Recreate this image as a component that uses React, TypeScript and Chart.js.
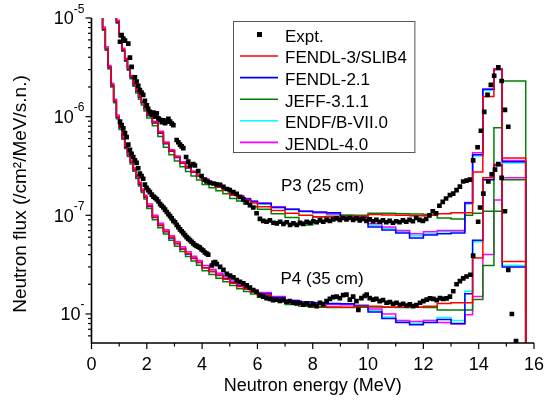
import { useEffect, useRef } from 'react';
import { Chart, registerables } from 'chart.js';

Chart.register(...registerables);

// ---------------- data ----------------
// histogram bin edges (MeV), shared by all library calculations
const BIN_EDGES = [
  0.3, 0.4, 0.5, 0.6, 0.7, 0.8, 0.9, 1.0, 1.1, 1.2, 1.3, 1.4, 1.5, 1.6, 1.7, 1.8, 1.9, 2.0,
  2.2, 2.4, 2.6, 2.8, 3.0, 3.2, 3.4, 3.6, 3.8, 4.0,
  4.25, 4.5, 4.75, 5.0, 5.25, 5.5, 5.75, 6.0,
  6.5, 7.0, 7.5, 8.0, 8.5, 9.0, 9.5, 10.0, 10.5, 11.0, 11.5, 12.0, 12.5, 13.0, 13.5,
  13.78, 14.15, 14.55, 14.85, 15.7,
];
const FLOOR_VALUE = 1e-10;

// P3 (25 cm)
const P3_FENDL3 = [
  6e-5, 4.6e-5, 3.6e-5, 2.7e-5, 2.0e-5, 1.4e-5, 9.2e-6, 6.6e-6, 4.8e-6, 3.8e-6, 3.1e-6, 2.55e-6, 2.15e-6, 1.85e-6, 1.6e-6, 1.4e-6, 1.22e-6,
  1.05e-6, 8.8e-7, 6.9e-7, 5.4e-7, 4.5e-7, 3.9e-7, 3.4e-7, 3.05e-7, 2.75e-7, 2.5e-7,
  2.25e-7, 2.08e-7, 1.93e-7, 1.8e-7, 1.6e-7, 1.52e-7, 1.42e-7, 1.33e-7,
  1.22e-7, 1.12e-7, 1.05e-7, 1.0e-7, 9.7e-8, 9.6e-8, 9.6e-8, 9.8e-8, 1.02e-7, 1.01e-7, 1.0e-7, 9.9e-8, 1.0e-7, 1.04e-7, 1.06e-7,
  1.06e-7, 2.75e-7, 1.6e-6, 3.05e-6, 3.8e-7,
];
const P3_FENDL21 = [
  6e-5, 4.6e-5, 3.55e-5, 2.65e-5, 1.97e-5, 1.38e-5, 9.0e-6, 6.5e-6, 4.7e-6, 3.72e-6, 3.05e-6, 2.5e-6, 2.1e-6, 1.82e-6, 1.57e-6, 1.38e-6, 1.2e-6,
  1.03e-6, 8.6e-7, 6.8e-7, 5.3e-7, 4.45e-7, 3.85e-7, 3.38e-7, 3.02e-7, 2.73e-7, 2.5e-7,
  2.27e-7, 2.1e-7, 1.96e-7, 1.83e-7, 1.65e-7, 1.55e-7, 1.46e-7, 1.38e-7,
  1.32e-7, 1.2e-7, 1.15e-7, 1.1e-7, 1.08e-7, 1.06e-7, 9.6e-8, 9.5e-8, 7.6e-8, 7.1e-8, 6.6e-8, 5.9e-8, 6.3e-8, 6.5e-8, 6.6e-8,
  1.33e-7, 4.1e-7, 1.9e-6, 3.0e-6, 3.5e-7,
];
const P3_JEFF = [
  5.9e-5, 4.5e-5, 3.5e-5, 2.6e-5, 1.93e-5, 1.35e-5, 8.9e-6, 6.4e-6, 4.6e-6, 3.65e-6, 2.95e-6, 2.42e-6, 2.03e-6, 1.74e-6, 1.5e-6, 1.31e-6, 1.14e-6,
  9.7e-7, 8.1e-7, 6.3e-7, 4.9e-7, 4.1e-7, 3.55e-7, 3.1e-7, 2.78e-7, 2.5e-7, 2.28e-7,
  2.05e-7, 1.9e-7, 1.77e-7, 1.65e-7, 1.48e-7, 1.4e-7, 1.3e-7, 1.22e-7,
  1.15e-7, 1.04e-7, 9.5e-8, 8.0e-8, 9.6e-8, 9.8e-8, 1.0e-7, 1.0e-7, 1.05e-7, 1.05e-7, 1.04e-7, 1.03e-7, 1.02e-7, 9.4e-8, 9.2e-8,
  1.0e-7, 1.05e-7, 1.1e-7, 7.7e-7, 2.3e-6,
];
const P3_ENDF = [
  6e-5, 4.6e-5, 3.58e-5, 2.68e-5, 1.99e-5, 1.39e-5, 9.1e-6, 6.55e-6, 4.75e-6, 3.76e-6, 3.08e-6, 2.53e-6, 2.13e-6, 1.84e-6, 1.59e-6, 1.39e-6, 1.21e-6,
  1.04e-6, 8.7e-7, 6.85e-7, 5.35e-7, 4.48e-7, 3.88e-7, 3.4e-7, 3.04e-7, 2.75e-7, 2.5e-7,
  2.27e-7, 2.1e-7, 1.95e-7, 1.82e-7, 1.64e-7, 1.54e-7, 1.45e-7, 1.37e-7,
  1.3e-7, 1.2e-7, 1.14e-7, 1.09e-7, 1.06e-7, 1.04e-7, 9.8e-8, 9.6e-8, 7.9e-8, 7.4e-8, 6.8e-8, 6.2e-8, 6.5e-8, 6.8e-8, 6.9e-8,
  1.3e-7, 4.0e-7, 1.85e-6, 3.0e-6, 3.4e-7,
];
const P3_JENDL = [
  6.2e-5, 4.7e-5, 3.7e-5, 2.8e-5, 2.06e-5, 1.45e-5, 9.5e-6, 6.8e-6, 4.95e-6, 3.9e-6, 3.2e-6, 2.62e-6, 2.2e-6, 1.9e-6, 1.64e-6, 1.43e-6, 1.25e-6,
  1.07e-6, 9.0e-7, 7.1e-7, 5.55e-7, 4.62e-7, 4.0e-7, 3.5e-7, 3.13e-7, 2.82e-7, 2.56e-7,
  2.33e-7, 2.16e-7, 2.0e-7, 1.87e-7, 1.68e-7, 1.58e-7, 1.48e-7, 1.4e-7,
  1.33e-7, 1.22e-7, 1.15e-7, 1.1e-7, 1.06e-7, 1.03e-7, 1.0e-7, 9.8e-8, 8.2e-8, 7.6e-8, 7.0e-8, 6.5e-8, 6.8e-8, 7.0e-8, 7.0e-8,
  1.35e-7, 4.3e-7, 1.9e-6, 3.0e-6, 3.6e-7,
];

// P4 (35 cm)
const P4_FENDL3 = [
  1.5e-5, 7.8e-6, 4.9e-6, 3.2e-6, 2.1e-6, 1.45e-6, 1.0e-6, 7.8e-7, 6.2e-7, 5.0e-7, 4.15e-7, 3.5e-7, 2.95e-7, 2.5e-7, 2.1e-7, 1.8e-7, 1.55e-7,
  1.25e-7, 9.6e-8, 8.0e-8, 6.9e-8, 6.0e-8, 5.2e-8, 4.6e-8, 4.1e-8, 3.7e-8, 3.35e-8,
  2.95e-8, 2.7e-8, 2.45e-8, 2.25e-8, 2.05e-8, 1.9e-8, 1.78e-8, 1.67e-8,
  1.55e-8, 1.42e-8, 1.3e-8, 1.25e-8, 1.2e-8, 1.18e-8, 1.17e-8, 1.2e-8, 1.2e-8, 1.18e-8, 1.17e-8, 1.17e-8, 1.2e-8, 1.28e-8, 1.3e-8,
  1.3e-8, 3.7e-8, 2.4e-7, 3.3e-7, 3.4e-8,
];
const P4_FENDL21 = [
  1.5e-5, 7.7e-6, 4.85e-6, 3.15e-6, 2.07e-6, 1.43e-6, 9.8e-7, 7.7e-7, 6.1e-7, 4.9e-7, 4.1e-7, 3.45e-7, 2.9e-7, 2.46e-7, 2.07e-7, 1.77e-7, 1.53e-7,
  1.23e-7, 9.5e-8, 7.9e-8, 6.8e-8, 5.9e-8, 5.15e-8, 4.55e-8, 4.05e-8, 3.65e-8, 3.32e-8,
  2.95e-8, 2.7e-8, 2.47e-8, 2.27e-8, 2.08e-8, 1.93e-8, 1.81e-8, 1.7e-8,
  1.6e-8, 1.47e-8, 1.36e-8, 1.32e-8, 1.3e-8, 1.28e-8, 1.27e-8, 1.22e-8, 1.05e-8, 9.0e-9, 8.2e-9, 7.8e-9, 8.2e-9, 8.8e-9, 8.0e-9,
  1.6e-8, 5.6e-8, 2.3e-7, 3.2e-7, 3.0e-8,
];
const P4_JEFF = [
  1.45e-5, 7.5e-6, 4.7e-6, 3.05e-6, 2.0e-6, 1.38e-6, 9.5e-7, 7.4e-7, 5.9e-7, 4.75e-7, 3.95e-7, 3.32e-7, 2.8e-7, 2.36e-7, 1.98e-7, 1.7e-7, 1.46e-7,
  1.17e-7, 9.0e-8, 7.5e-8, 6.45e-8, 5.6e-8, 4.85e-8, 4.3e-8, 3.83e-8, 3.45e-8, 3.12e-8,
  2.75e-8, 2.52e-8, 2.3e-8, 2.12e-8, 1.94e-8, 1.8e-8, 1.69e-8, 1.59e-8,
  1.48e-8, 1.35e-8, 1.25e-8, 1.2e-8, 1.17e-8, 1.16e-8, 1.16e-8, 1.17e-8, 1.18e-8, 1.17e-8, 1.16e-8, 1.17e-8, 1.16e-8, 1.1e-8, 1.1e-8,
  1.1e-8, 1.4e-8, 3.1e-8, 1.1e-7, 2.3e-7,
];
const P4_ENDF = [
  1.5e-5, 7.8e-6, 4.9e-6, 3.18e-6, 2.09e-6, 1.44e-6, 9.9e-7, 7.75e-7, 6.15e-7, 4.95e-7, 4.12e-7, 3.47e-7, 2.92e-7, 2.48e-7, 2.08e-7, 1.78e-7, 1.54e-7,
  1.24e-7, 9.55e-8, 7.95e-8, 6.85e-8, 5.95e-8, 5.18e-8, 4.58e-8, 4.08e-8, 3.67e-8, 3.33e-8,
  2.96e-8, 2.71e-8, 2.47e-8, 2.27e-8, 2.07e-8, 1.92e-8, 1.8e-8, 1.69e-8,
  1.58e-8, 1.45e-8, 1.34e-8, 1.3e-8, 1.27e-8, 1.25e-8, 1.24e-8, 1.22e-8, 1.08e-8, 9.3e-9, 8.5e-9, 8.0e-9, 8.6e-9, 9.2e-9, 8.6e-9,
  1.7e-8, 5.4e-8, 2.3e-7, 3.2e-7, 3.1e-8,
];
const P4_JENDL = [
  1.6e-5, 8.1e-6, 5.1e-6, 3.3e-6, 2.18e-6, 1.5e-6, 1.04e-6, 8.1e-7, 6.4e-7, 5.15e-7, 4.3e-7, 3.62e-7, 3.05e-7, 2.58e-7, 2.17e-7, 1.86e-7, 1.6e-7,
  1.3e-7, 1.0e-7, 8.3e-8, 7.15e-8, 6.2e-8, 5.4e-8, 4.8e-8, 4.27e-8, 3.85e-8, 3.48e-8,
  3.1e-8, 2.84e-8, 2.58e-8, 2.37e-8, 2.16e-8, 2.0e-8, 1.87e-8, 1.75e-8,
  1.65e-8, 1.5e-8, 1.38e-8, 1.32e-8, 1.28e-8, 1.25e-8, 1.24e-8, 1.22e-8, 1.12e-8, 1.0e-8, 8.6e-9, 8.4e-9, 8.6e-9, 8.2e-9, 7.9e-9,
  9.8e-9, 1.5e-8, 4.0e-8, 1.43e-7, 2.4e-7,
];

// Experiment
const P3_EXPT_E = [
  1.03, 1.09, 1.15, 1.21, 1.33, 1.39, 1.45, 1.57, 1.63, 1.69, 1.75, 1.81, 1.87, 1.93, 2.0, 2.05, 2.11, 2.18, 2.24, 2.3,
  2.36, 2.42, 2.48, 2.54, 2.6, 2.66, 2.72, 2.78, 2.84, 2.9, 2.96, 3.08, 3.14, 3.2, 3.26, 3.32, 3.42, 3.5, 3.56, 3.68,
  3.74, 3.86, 3.98, 4.1, 4.16, 4.28, 4.4, 4.52, 4.65, 4.77, 4.9, 5.0, 5.13, 5.25, 5.37, 5.49, 5.61, 5.73, 5.85, 5.97,
  6.09, 6.21, 6.33, 6.45, 6.58, 6.7, 6.82, 6.94, 7.06, 7.18, 7.3, 7.42, 7.54, 7.66, 7.78, 7.9, 8.02, 8.14, 8.26, 8.38,
  8.5, 8.62, 8.74, 8.86, 8.98, 9.1, 9.22, 9.34, 9.46, 9.58, 9.7, 9.82, 9.94, 10.06, 10.18, 10.3, 10.42, 10.54, 10.66, 10.78,
  10.9, 11.02, 11.14, 11.26, 11.38, 11.5, 11.62, 11.74, 11.86, 11.98, 12.1, 12.22, 12.34, 12.46, 12.58, 12.7, 12.82, 12.96, 13.08, 13.2,
  13.32, 13.44, 13.56, 13.68, 13.8, 13.96, 14.08, 14.2, 14.32, 14.44, 14.56, 14.71, 14.83, 14.95, 15.07,
];
const P3_EXPT_FLUX = [
  5.75e-6, 6.7e-6, 6.2e-6, 5.9e-6, 5.5e-6, 3.96e-6, 3.2e-6, 2.5e-6, 2.27e-6, 2.05e-6, 1.86e-6, 1.75e-6, 1.66e-6, 1.45e-6, 1.3e-6, 1.2e-6, 1.12e-6, 1.05e-6, 1.1e-6, 1.0e-6,
  1.08e-6, 9.6e-7, 9.3e-7, 8.8e-7, 9.2e-7, 8.6e-7, 8.9e-7, 9.5e-7, 8.9e-7, 8.5e-7, 8.2e-7, 5.8e-7, 5.5e-7, 5.2e-7, 5.0e-7, 4.8e-7, 3.9e-7, 3.5e-7, 3.2e-7, 3.3e-7,
  3.2e-7, 2.8e-7, 2.5e-7, 2.3e-7, 2.2e-7, 2.15e-7, 2.1e-7, 2.06e-7, 2.04e-7, 1.94e-7, 1.85e-7, 1.8e-7, 1.72e-7, 1.65e-7, 1.54e-7, 1.45e-7, 1.35e-7, 1.27e-7, 1.2e-7, 1.05e-7,
  9.2e-8, 8.8e-8, 8.6e-8, 8.9e-8, 8.4e-8, 8.3e-8, 8.6e-8, 8.2e-8, 8.5e-8, 8.0e-8, 8.3e-8, 8.0e-8, 8.4e-8, 8.2e-8, 8.6e-8, 8.4e-8, 8.7e-8, 8.5e-8, 8.9e-8, 8.6e-8,
  9.0e-8, 8.8e-8, 9.1e-8, 9.3e-8, 9.0e-8, 9.4e-8, 9.1e-8, 9.4e-8, 9.0e-8, 9.3e-8, 8.9e-8, 9.2e-8, 8.8e-8, 9.1e-8, 8.7e-8, 9.0e-8, 8.6e-8, 8.9e-8, 8.5e-8, 8.8e-8,
  8.4e-8, 8.7e-8, 8.5e-8, 8.9e-8, 8.6e-8, 9.0e-8, 8.7e-8, 9.4e-8, 9.0e-8, 8.8e-8, 9.2e-8, 1.0e-7, 1.1e-7, 1.05e-7, 1.25e-7, 1.37e-7, 1.48e-7, 1.6e-7, 1.66e-7, 1.8e-7,
  1.95e-7, 2.2e-7, 2.25e-7, 2.3e-7, 3.6e-7, 4.9e-7, 7.2e-7, 1.12e-6, 1.66e-6, 2.1e-6, 2.6e-6, 3.16e-6, 2.3e-6, 1.17e-6, 7.9e-7,
];
const P4_EXPT_E = [
  1.03, 1.09, 1.15, 1.21, 1.27, 1.33, 1.39, 1.45, 1.51, 1.57, 1.63, 1.69, 1.75, 1.81, 1.87, 1.93, 1.99, 2.05, 2.11, 2.18,
  2.24, 2.3, 2.36, 2.42, 2.48, 2.54, 2.6, 2.66, 2.72, 2.78, 2.84, 2.9, 2.96, 3.02, 3.08, 3.14, 3.2, 3.26, 3.32, 3.38,
  3.44, 3.5, 3.56, 3.62, 3.68, 3.74, 3.8, 3.86, 3.92, 3.98, 4.04, 4.1, 4.16, 4.22, 4.35, 4.41, 4.47, 4.53, 4.65, 4.77,
  4.89, 5.01, 5.13, 5.25, 5.37, 5.49, 5.61, 5.73, 5.85, 5.97, 6.09, 6.21, 6.33, 6.45, 6.57, 6.69, 6.81, 6.93, 7.05, 7.17,
  7.29, 7.41, 7.53, 7.66, 7.78, 7.9, 8.02, 8.14, 8.26, 8.38, 8.5, 8.62, 8.74, 8.86, 8.98, 9.1, 9.22, 9.34, 9.46, 9.58,
  9.65, 9.76, 9.88, 9.95, 10.06, 10.18, 10.3, 10.42, 10.54, 10.67, 10.79, 10.91, 11.03, 11.15, 11.27, 11.39, 11.51, 11.63, 11.75, 11.88,
  12.0, 12.12, 12.24, 12.36, 12.48, 12.6, 12.72, 12.84, 12.96, 13.08, 13.2, 13.32, 13.44, 13.56, 13.7, 13.8, 13.98, 14.05, 14.17, 14.35,
  14.47, 14.59, 14.71, 14.83, 14.95, 15.07, 15.2, 15.35,
];
const P4_EXPT_FLUX = [
  8.9e-7, 8.2e-7, 7.6e-7, 6.8e-7, 6.2e-7, 5.2e-7, 4.6e-7, 4.2e-7, 3.9e-7, 3.6e-7, 3.4e-7, 3.0e-7, 2.65e-7, 2.5e-7, 2.35e-7, 2.05e-7, 1.9e-7, 1.8e-7, 1.72e-7, 1.62e-7,
  1.55e-7, 1.5e-7, 1.45e-7, 1.38e-7, 1.3e-7, 1.25e-7, 1.2e-7, 1.14e-7, 1.08e-7, 1.03e-7, 9.8e-8, 9.3e-8, 8.8e-8, 8.5e-8, 8.0e-8, 7.6e-8, 7.2e-8, 6.9e-8, 6.6e-8, 6.3e-8,
  6.0e-8, 5.8e-8, 5.6e-8, 5.4e-8, 5.2e-8, 5.0e-8, 4.9e-8, 4.8e-8, 4.7e-8, 4.5e-8, 4.4e-8, 4.2e-8, 4.1e-8, 4.0e-8, 3.1e-8, 3.3e-8, 3.35e-8, 3.2e-8, 3.0e-8, 2.8e-8,
  2.55e-8, 2.45e-8, 2.35e-8, 2.2e-8, 2.12e-8, 2.05e-8, 1.95e-8, 1.85e-8, 1.75e-8, 1.68e-8, 1.55e-8, 1.5e-8, 1.45e-8, 1.42e-8, 1.38e-8, 1.4e-8, 1.36e-8, 1.38e-8, 1.33e-8, 1.35e-8,
  1.3e-8, 1.28e-8, 1.3e-8, 1.24e-8, 1.28e-8, 1.22e-8, 1.26e-8, 1.2e-8, 1.3e-8, 1.26e-8, 1.35e-8, 1.42e-8, 1.48e-8, 1.5e-8, 1.45e-8, 1.55e-8, 1.57e-8, 1.4e-8, 1.5e-8, 1.35e-8,
  1.1e-8, 1.45e-8, 1.52e-8, 1.57e-8, 1.45e-8, 1.4e-8, 1.42e-8, 1.35e-8, 1.38e-8, 1.3e-8, 1.32e-8, 1.27e-8, 1.3e-8, 1.24e-8, 1.27e-8, 1.22e-8, 1.25e-8, 1.2e-8, 1.23e-8, 1.3e-8,
  1.35e-8, 1.4e-8, 1.44e-8, 1.42e-8, 1.38e-8, 1.45e-8, 1.42e-8, 1.44e-8, 1.5e-8, 1.7e-8, 2.0e-8, 2.15e-8, 2.3e-8, 2.4e-8, 2.5e-8, 3.9e-8, 8.6e-8, 1.2e-7, 1.66e-7, 2.2e-7,
  2.6e-7, 2.9e-7, 3.3e-7, 2.4e-7, 1.1e-7, 2.8e-8, 1.0e-8, 5.3e-9,
];

const X_MIN = 0;
const X_MAX = 16;
const Y_MIN = 5.08e-9;
const Y_MAX = 1e-5;
const X_TICK_LABELS = ['0', '2', '4', '6', '8', '10', '12', '14', '16'];
const Y_TICK_VALUES = [1e-5, 1e-6, 1e-7, 1e-8];
const Y_TICK_EXPONENTS = ['-5', '-6', '-7', '-'];

const LIBRARIES = [
  { name: 'FENDL-3/SLIB4', color: '#ff0000', p3: P3_FENDL3, p4: P4_FENDL3, order: 1 },
  { name: 'FENDL-2.1', color: '#0000ff', p3: P3_FENDL21, p4: P4_FENDL21, order: 2 },
  { name: 'JEFF-3.1.1', color: '#008000', p3: P3_JEFF, p4: P4_JEFF, order: 3 },
  { name: 'ENDF/B-VII.0', color: '#00ffff', p3: P3_ENDF, p4: P4_ENDF, order: 5 },
  { name: 'JENDL-4.0', color: '#ff00ff', p3: P3_JENDL, p4: P4_JENDL, order: 4 },
];

const FONT = '"Liberation Sans", Arial, Helvetica, sans-serif';

function stepPoints(values: number[]) {
  const pts = values.map((v, i) => ({ x: BIN_EDGES[i], y: v }));
  pts.push({ x: BIN_EDGES[BIN_EDGES.length - 1], y: FLOOR_VALUE });
  return pts;
}

function scatterPoints(es: number[], fs: number[]) {
  return es.map((e, i) => ({ x: e, y: fs[i] }));
}

const decorPlugin = {
  id: 'decor',
  afterDraw(chart: any) {
    const { ctx, chartArea: a } = chart;
    const xs = chart.scales.x;
    const ys = chart.scales.y;
    ctx.save();
    ctx.strokeStyle = '#000';
    ctx.fillStyle = '#000';

    // axis lines
    ctx.lineWidth = 1.6;
    ctx.beginPath();
    ctx.moveTo(a.left, a.top);
    ctx.lineTo(a.left, a.bottom);
    ctx.lineTo(a.right, a.bottom);
    ctx.stroke();

    // x ticks (major every 2, minor every 1)
    ctx.lineWidth = 1.2;
    for (let v = X_MIN; v <= X_MAX; v++) {
      const px = xs.getPixelForValue(v);
      const len = v % 2 === 0 ? 6 : 3.5;
      ctx.beginPath();
      ctx.moveTo(px, a.bottom);
      ctx.lineTo(px, a.bottom + len);
      ctx.stroke();
    }
    ctx.font = `18px ${FONT}`;
    ctx.textAlign = 'center';
    ctx.textBaseline = 'alphabetic';
    X_TICK_LABELS.forEach((t) => {
      const px = xs.getPixelForValue(Number(t));
      ctx.fillText(t, px, a.bottom + 27);
    });

    // y ticks (log decades + minor)
    for (let k = -9; k <= -5; k++) {
      for (let m = 1; m <= 9; m++) {
        const v = m * Math.pow(10, k);
        if (v < Y_MIN * 0.999 || v > Y_MAX * 1.001) continue;
        const py = ys.getPixelForValue(v);
        const len = m === 1 ? 6 : 3.5;
        ctx.beginPath();
        ctx.moveTo(a.left - len, py);
        ctx.lineTo(a.left, py);
        ctx.stroke();
      }
    }
    // y labels with superscript exponent
    Y_TICK_VALUES.forEach((v, i) => {
      const py = ys.getPixelForValue(v);
      const right = a.left - 7;
      ctx.textAlign = 'right';
      ctx.textBaseline = 'alphabetic';
      ctx.font = `12px ${FONT}`;
      const sup = Y_TICK_EXPONENTS[i];
      const supW = ctx.measureText(sup).width;
      ctx.fillText(sup, right, py - 5.5);
      ctx.font = `18px ${FONT}`;
      ctx.fillText('10', right - supW, py + 6.4);
    });

    // axis titles
    ctx.font = `18px ${FONT}`;
    ctx.textAlign = 'center';
    ctx.textBaseline = 'alphabetic';
    ctx.fillText('Neutron energy (MeV)', (a.left + a.right) / 2, 391);
    ctx.save();
    ctx.font = `19px ${FONT}`;
    ctx.translate(21, 194);
    ctx.rotate(-Math.PI / 2);
    ctx.textBaseline = 'middle';
    ctx.fillText('Neutron flux (/cm\u00B2/MeV/s.n.)', 0, 0);
    ctx.restore();

    // annotations
    ctx.font = `17px ${FONT}`;
    ctx.textAlign = 'left';
    ctx.textBaseline = 'alphabetic';
    ctx.fillText('P3 (25 cm)', 281, 190.5);
    ctx.fillText('P4 (35 cm)', 280.5, 284);

    // legend
    ctx.font = `17px ${FONT}`;
    const names = ['Expt.', ...LIBRARIES.map((l) => l.name)];
    const maxW = Math.max(...names.map((n) => ctx.measureText(n).width));
    const bx = 233.5;
    const by = 21.5;
    const bw = 285 - bx + maxW + 8;
    const bh = 131;
    ctx.fillStyle = '#fff';
    ctx.fillRect(bx, by, bw, bh);
    ctx.strokeStyle = '#555';
    ctx.lineWidth = 1;
    ctx.strokeRect(bx, by, bw, bh);
    ctx.fillStyle = '#000';
    ctx.fillRect(259.5 - 2.5, 34.5 - 2.5, 5, 5);
    ctx.fillText('Expt.', 285, 34.5 + 7.3);
    LIBRARIES.forEach((l, i) => {
      const yy = 56 + i * 21.6;
      ctx.strokeStyle = l.color;
      ctx.lineWidth = 1.6;
      ctx.beginPath();
      ctx.moveTo(240, yy);
      ctx.lineTo(278, yy);
      ctx.stroke();
      ctx.fillStyle = '#000';
      ctx.fillText(l.name, 285, yy + 7.3);
    });
    ctx.restore();
  },
};

export default function App() {
  const canvasRef = useRef<HTMLCanvasElement | null>(null);

  useEffect(() => {
    if (!canvasRef.current) return;
    const datasets: any[] = [
      {
        label: 'Expt. P3',
        type: 'scatter',
        data: scatterPoints(P3_EXPT_E, P3_EXPT_FLUX),
        pointStyle: 'rect',
        pointRadius: 3.3,
        backgroundColor: '#000',
        borderWidth: 0,
        showLine: false,
        order: 0,
      },
      {
        label: 'Expt. P4',
        type: 'scatter',
        data: scatterPoints(P4_EXPT_E, P4_EXPT_FLUX),
        pointStyle: 'rect',
        pointRadius: 3.3,
        backgroundColor: '#000',
        borderWidth: 0,
        showLine: false,
        order: 0,
      },
    ];
    LIBRARIES.forEach((l) => {
      [l.p3, l.p4].forEach((vals, j) => {
        datasets.push({
          label: `${l.name} ${j === 0 ? 'P3' : 'P4'}`,
          type: 'line',
          data: stepPoints(vals),
          stepped: 'before',
          borderColor: l.color,
          borderWidth: 1.5,
          pointRadius: 0,
          fill: false,
          tension: 0,
          order: l.order,
        });
      });
    });

    const chart = new Chart(canvasRef.current, {
      type: 'line',
      data: { datasets },
      options: {
        animation: false,
        responsive: false,
        maintainAspectRatio: false,
        events: [],
        layout: { padding: { left: 91.5, top: 18, right: 10, bottom: 65 } },
        scales: {
          x: { type: 'linear', min: X_MIN, max: X_MAX, display: false },
          y: { type: 'logarithmic', min: Y_MIN, max: Y_MAX, display: false },
        },
        plugins: {
          legend: { display: false },
          tooltip: { enabled: false },
        },
      },
      plugins: [decorPlugin],
    });
    return () => chart.destroy();
  }, []);

  return (
    <div style={{ position: 'fixed', left: 0, top: 0, width: 544, height: 408, background: '#fff' }}>
      <canvas ref={canvasRef} width={544} height={408} style={{ display: 'block', width: 544, height: 408 }} />
    </div>
  );
}
